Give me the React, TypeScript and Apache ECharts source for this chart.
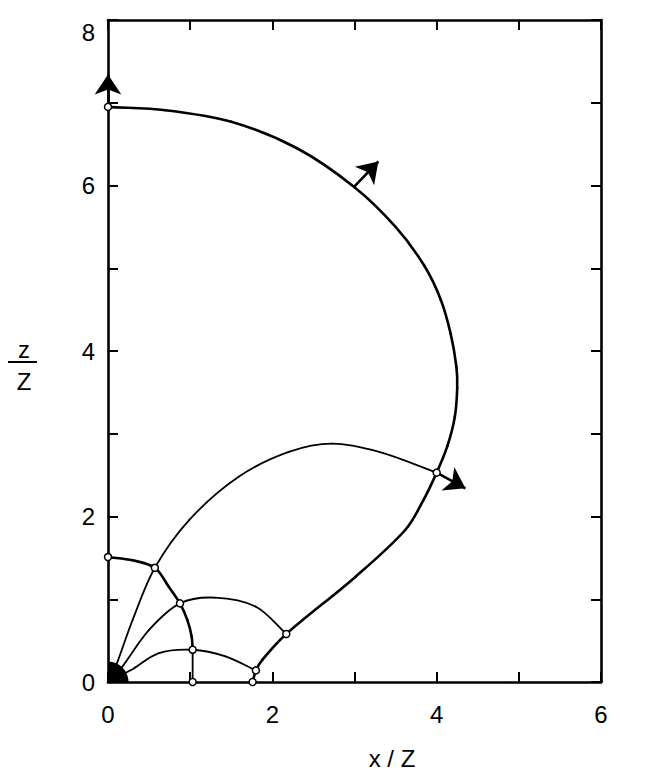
import React, { useEffect, useRef } from "react";
import * as echarts from "echarts";

// Axis ranges / ticks
const xTicks = [0, 1, 2, 3, 4, 5, 6];
const yTicks = [0, 1, 2, 3, 4, 5, 6, 7, 8];

// Outer thick boundary curve
const outerCurve: number[][] = [
  [0, 6.95], [0.7, 6.91], [1.5, 6.77], [2.3, 6.45], [3.0, 5.98], [3.5, 5.5],
  [3.85, 5.03], [4.05, 4.62], [4.17, 4.21], [4.24, 3.81], [4.25, 3.55], [4.22, 3.2],
  [4.13, 2.85], [4.0, 2.53], [3.84, 2.2], [3.62, 1.84], [3.01, 1.27], [2.17, 0.58],
  [1.88, 0.27], [1.8, 0.14], [1.76, 0],
];

// Inner thick arc
const innerArc: number[][] = [
  [0, 1.51], [0.3, 1.47], [0.57, 1.38], [0.74, 1.15], [0.876, 0.95], [0.965, 0.75],
  [1.018, 0.55], [1.03, 0.39],
];
const innerStem: number[][] = [[1.03, 0.39], [1.03, 0]];

// Thin trajectories from origin
const curveA: number[][] = [
  [0.03, 0.05], [0.11, 0.23], [0.3, 0.75], [0.57, 1.38], [0.99, 1.96], [1.59, 2.48],
  [2.2, 2.78], [2.73, 2.88], [3.3, 2.78], [4.0, 2.53],
];
const curveB: number[][] = [
  [0.05, 0.05], [0.17, 0.18], [0.5, 0.63], [0.876, 0.95], [1.3, 1.02], [1.8, 0.91],
  [2.17, 0.58],
];
const curveC: number[][] = [
  [0.05, 0.03], [0.28, 0.145], [0.62, 0.35], [1.03, 0.39], [1.43, 0.31], [1.8, 0.14],
];

// Open circle markers
const markers: number[][] = [
  [0, 6.95], [0, 1.51], [0.57, 1.38], [0.876, 0.95], [1.03, 0.39], [1.03, 0],
  [1.8, 0.14], [1.76, 0], [2.17, 0.58], [4.0, 2.53],
];

// Arrows [start, end]
const arrows: number[][][] = [
  [[0, 6.95], [0, 7.34]],
  [[3.0, 5.99], [3.29, 6.29]],
  [[4.0, 2.53], [4.35, 2.34]],
];

// Filled core at origin [x, y, radius]
const core: number[][] = [[0, 0, 0.25]];

const FONT = '"Liberation Sans", "DejaVu Sans", sans-serif';

// Smooth curve through data points, drawn segment by segment via axis scales
function curveSeries(curve: number[][], width: number) {
  return {
    type: "custom",
    data: curve,
    clip: false,
    z: 3,
    renderItem: (params: any, api: any) => {
      const i = params.dataIndex;
      const n = curve.length;
      if (i >= n - 1) return null;
      const P = (k: number) => api.coord(curve[Math.max(0, Math.min(n - 1, k))]);
      const p0 = P(i - 1), p1 = P(i), p2 = P(i + 1), p3 = P(i + 2);
      const dist = (a: number[], b: number[]) => Math.hypot(b[0] - a[0], b[1] - a[1]) || 1e-6;
      const d = dist(p1, p2);
      const tan = (prev: number[], cur: number[], next: number[], isEnd: boolean) => {
        const l = isEnd ? dist(prev, next) : dist(prev, cur) + dist(cur, next);
        return [(next[0] - prev[0]) / l, (next[1] - prev[1]) / l];
      };
      const t1 = i === 0 ? tan(p1, p1, p2, true) : tan(p0, p1, p2, false);
      const t2 = i + 1 === n - 1 ? tan(p1, p2, p2, true) : tan(p1, p2, p3, false);
      return {
        type: "bezierCurve",
        shape: {
          x1: p1[0], y1: p1[1], x2: p2[0], y2: p2[1],
          cpx1: p1[0] + (t1[0] * d) / 3, cpy1: p1[1] + (t1[1] * d) / 3,
          cpx2: p2[0] - (t2[0] * d) / 3, cpy2: p2[1] - (t2[1] * d) / 3,
        },
        style: { stroke: "#000", lineWidth: width, fill: null, lineCap: "round" },
      };
    },
  };
}

export default function App() {
  const ref = useRef<HTMLDivElement>(null);
  useEffect(() => {
    if (!ref.current) return;
    const chart = echarts.init(ref.current, null, { renderer: "svg" });
    const axisLine = { show: true, onZero: false, lineStyle: { color: "#000", width: 2.6 } };
    const axisTick = { show: true, inside: true, length: 10, lineStyle: { color: "#000", width: 2 } };
    chart.setOption({
      animation: false,
      backgroundColor: "#fff",
      grid: { left: 108, right: 61, top: 20, bottom: 93 },
      xAxis: [
        {
          type: "value", min: xTicks[0], max: xTicks[xTicks.length - 1], interval: 1,
          axisLine, axisTick, splitLine: { show: false },
          axisLabel: {
            margin: 20, color: "#000", fontSize: 24, fontFamily: FONT,
            formatter: (v: number) => (v % 2 === 0 ? String(v) : ""),
          },
        },
        {
          type: "value", position: "top", min: xTicks[0], max: xTicks[xTicks.length - 1], interval: 1,
          axisLine, axisTick, splitLine: { show: false }, axisLabel: { show: false },
        },
      ],
      yAxis: [
        {
          type: "value", min: yTicks[0], max: yTicks[yTicks.length - 1], interval: 1,
          axisLine, axisTick, splitLine: { show: false },
          axisLabel: {
            margin: 13, color: "#000", fontSize: 24, fontFamily: FONT,
            formatter: (v: number) => (v === 8 ? "{t|8}" : v % 2 === 0 ? String(v) : ""),
            rich: { t: { fontSize: 24, fontFamily: FONT, color: "#000", padding: [24, 0, 0, 0] } },
          },
        },
        {
          type: "value", position: "right", min: yTicks[0], max: yTicks[yTicks.length - 1], interval: 1,
          axisLine, axisTick, splitLine: { show: false }, axisLabel: { show: false },
        },
      ],
      graphic: [
        {
          type: "text",
          style: { text: "x / Z", x: 392, y: 758, align: "center", verticalAlign: "middle", fontSize: 24, fontFamily: FONT, fill: "#000" },
        },
        {
          type: "text",
          style: { text: "z", x: 24, y: 349, align: "center", verticalAlign: "middle", fontSize: 24, fontFamily: FONT, fill: "#000" },
        },
        { type: "line", shape: { x1: 8, y1: 362, x2: 37, y2: 362 }, style: { stroke: "#000", lineWidth: 2 } },
        {
          type: "text",
          style: { text: "Z", x: 24, y: 381, align: "center", verticalAlign: "middle", fontSize: 24, fontFamily: FONT, fill: "#000" },
        },
      ],
      series: [
        curveSeries(outerCurve, 2.6),
        curveSeries(innerArc, 2.6),
        curveSeries(innerStem, 1.8),
        curveSeries(curveA, 1.8),
        curveSeries(curveB, 1.8),
        curveSeries(curveC, 1.8),
        {
          type: "custom",
          data: core,
          clip: false,
          renderItem: (params: any, api: any) => {
            const c = api.coord([api.value(0), api.value(1)]);
            const r = api.size([api.value(2), 0])[0];
            return {
              type: "sector",
              shape: { cx: c[0], cy: c[1], r0: 0, r, startAngle: -Math.PI / 2, endAngle: 0, clockwise: true },
              style: { fill: "#000" },
            };
          },
          z: 4,
        },
        {
          type: "lines",
          coordinateSystem: "cartesian2d",
          clip: false,
          data: arrows.map((a) => ({ coords: a })),
          symbol: ["none", "arrow"],
          symbolSize: 20,
          lineStyle: { color: "#000", width: 2.6, opacity: 1, curveness: 0 },
          z: 5,
        },
        {
          type: "scatter",
          data: markers,
          symbol: "circle",
          symbolSize: 7,
          clip: false,
          itemStyle: { color: "#fff", borderColor: "#000", borderWidth: 1.5, opacity: 1 },
          z: 6,
        },
      ],
    });
    return () => chart.dispose();
  }, []);
  return (
    <div
      ref={ref}
      style={{ position: "fixed", left: 0, top: 0, width: 662, height: 775, background: "#fff" }}
    />
  );
}
